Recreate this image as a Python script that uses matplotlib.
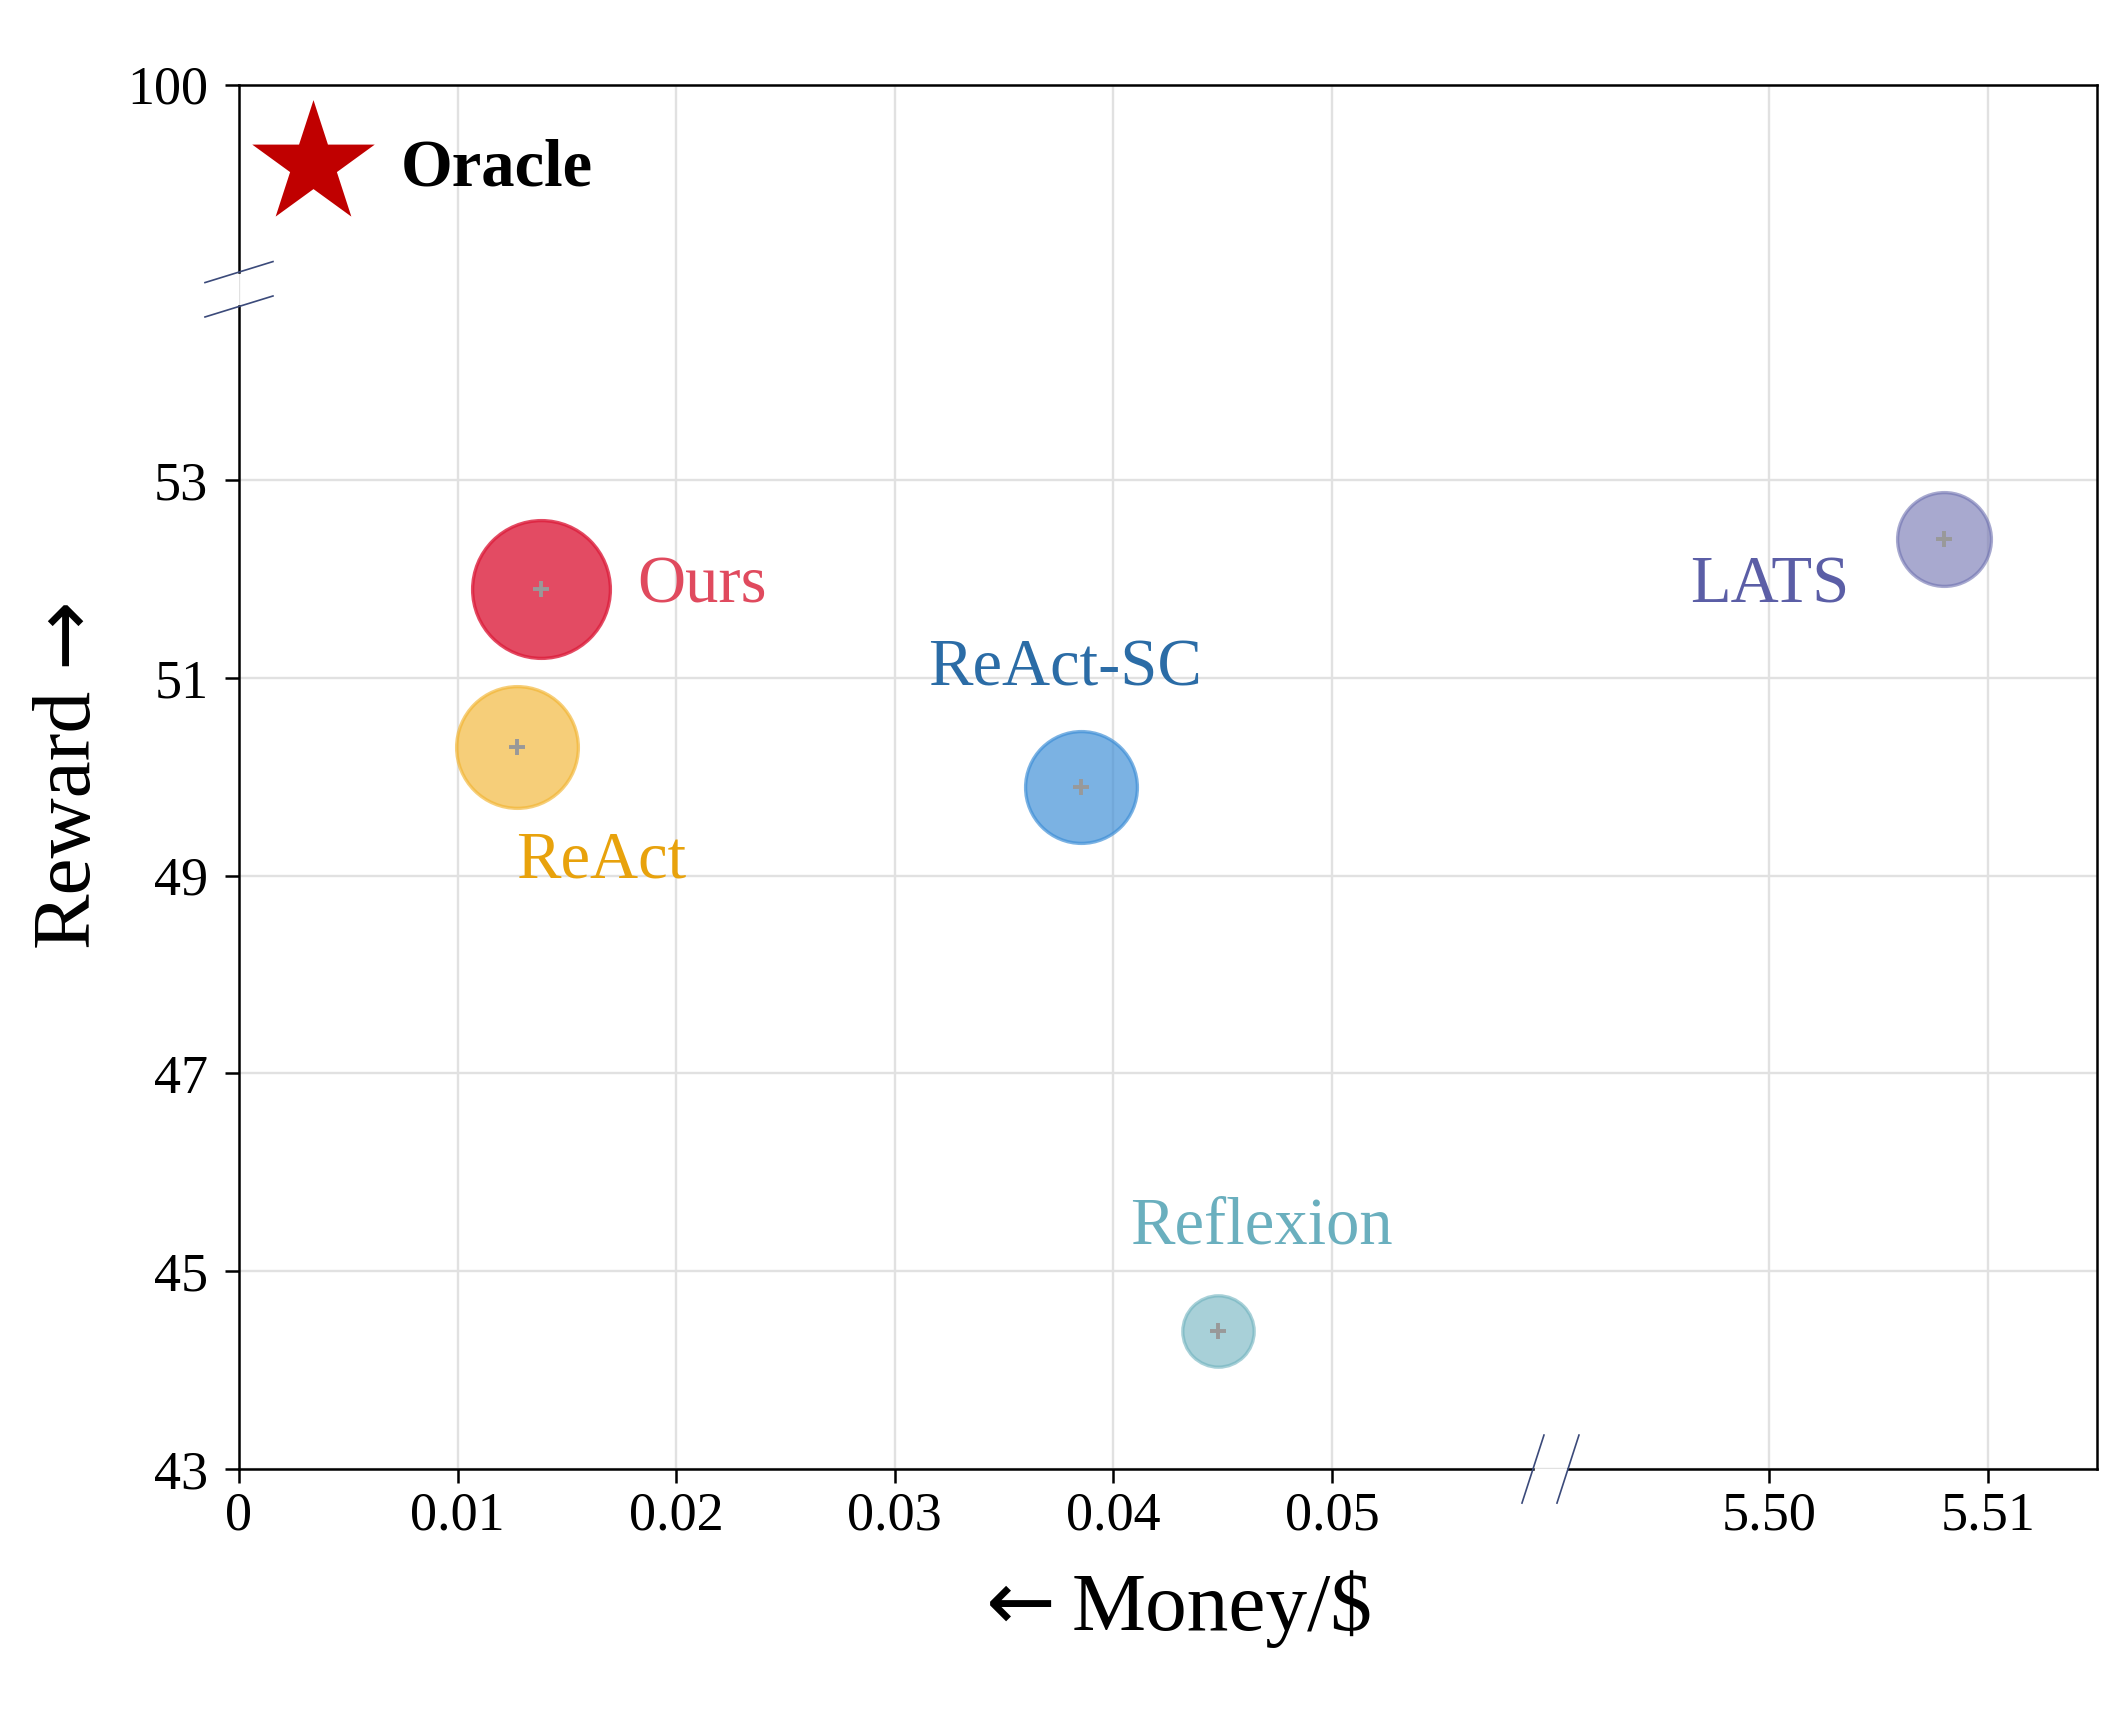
import matplotlib
matplotlib.use('Agg')
import matplotlib.pyplot as plt
import numpy as np

plt.rcParams['font.family'] = ['Liberation Serif', 'DejaVu Serif']

# data (money in $, reward)
methods = ['Ours', 'ReAct', 'ReAct-SC', 'Reflexion', 'LATS']
money = [0.0138, 0.0127, 0.0385, 0.0448, 5.508]
reward = [51.9, 50.3, 49.9, 44.4, 52.4]
bubble_size = [2460, 1920, 1620, 660, 1140]

oracle_money = 0.0034
oracle_reward = 99.2

x_ticks = [0, 0.01, 0.02, 0.03, 0.04, 0.05, 5.50, 5.51]
x_ticklabels = ['0', '0.01', '0.02', '0.03', '0.04', '0.05', '5.50', '5.51']
y_ticks = [43, 45, 47, 49, 51, 53, 100]
y_ticklabels = ['43', '45', '47', '49', '51', '53', '100']

# styles
fill_colors = ['#DC1E3C', '#F2B431', '#3D8ED6', '#6FB2BE', '#6E71B0']
fill_alpha = [0.8, 0.65, 0.68, 0.6, 0.6]
text_colors = ['#E04A5E', '#E8A20C', '#2B6CA6', '#6AAFBE', '#5B5EA6']
# label anchor (left, baseline) in broken-axis coordinates
label_pos = [(0.0182, 51.76), (0.01267, 48.98), (0.03153, 50.92),
             (0.04075, 45.28), (0.06637, 51.76)]

X_BREAK = 0.06
Y_BREAK = 55


def to_x(m):
    # collapse the gap 0.06 .. 5.49
    m = np.asarray(m, dtype=float)
    return np.where(m < X_BREAK, m, m - 5.43)


def to_y(r):
    r = np.asarray(r, dtype=float)
    return np.where(r < Y_BREAK, r, r - 43)


fig = plt.figure(figsize=(10.64, 8.56), dpi=200)
ax_l, ax_b, ax_w, ax_h = 0.1123, 0.1419, 0.8731, 0.8087
ax = fig.add_axes([ax_l, ax_b, ax_w, ax_h])

ax.set_xlim(0, 0.085)
ax.set_ylim(43, 57)
ax.set_xticks(to_x(x_ticks))
ax.set_xticklabels(x_ticklabels)
ax.set_yticks(to_y(y_ticks))
ax.set_yticklabels(y_ticklabels)
ax.tick_params(axis='both', labelsize=19.5, length=5, width=0.9, direction='out')
ax.tick_params(axis='x', pad=3)
ax.tick_params(axis='y', pad=6)
ax.grid(True, color='#e1e1e1', linewidth=0.85, zorder=0)
ax.set_axisbelow(True)

# bubbles
xs = to_x(money)
ys = to_y(reward)
for i in range(len(methods)):
    ax.scatter(xs[i], ys[i], s=bubble_size[i], color=fill_colors[i],
               alpha=fill_alpha[i], edgecolors=fill_colors[i], linewidths=1.2, zorder=3)
    ax.plot(xs[i], ys[i], marker='+', color='#999999', markersize=6, mew=1.4, zorder=4)
    ax.text(label_pos[i][0], label_pos[i][1], methods[i], color=text_colors[i],
            fontsize=24, ha='left', va='baseline', zorder=5)

# oracle
ax.scatter(to_x(oracle_money), to_y(oracle_reward), marker='*', s=2150,
           color='#C00000', linewidths=0, zorder=4)
ax.text(0.0074, 55.98, 'Oracle', fontsize=24, fontweight='bold',
        ha='left', va='baseline', zorder=5)

# spines with gaps + break marks
for side in ['left', 'bottom']:
    ax.spines[side].set_visible(False)
for side in ['top', 'right']:
    ax.spines[side].set_linewidth(0.9)

fig_w_px = fig.get_figwidth() * fig.dpi
fig_h_px = fig.get_figheight() * fig.dpi
aw = ax_w * fig_w_px
ah = ax_h * fig_h_px

yb = (54.93 - 43) / 14.0
xb = X_BREAK / 0.085
gy = 17.2 / ah
gx = 17.5 / aw
kw = dict(transform=ax.transAxes, color='black', linewidth=0.9, clip_on=False,
          solid_capstyle='projecting', zorder=6)
ax.plot([0, 0], [0, yb - gy], **kw)
ax.plot([0, 0], [yb + gy, 1], **kw)
ax.plot([0, xb - gx], [0, 0], **kw)
ax.plot([xb + gx, 1], [0, 0], **kw)

mk = dict(transform=ax.transAxes, color='#3B4A7A', linewidth=0.6, clip_on=False, zorder=7)
dxp, dyp = 34 / aw, 10.5 / ah
for c in [yb - gy, yb + gy]:
    ax.plot([-dxp, dxp], [c - dyp, c + dyp], **mk)
dxp, dyp = 11 / aw, 34 / ah
for c in [xb - gx, xb + gx]:
    ax.plot([c - dxp, c + dxp], [-dyp, dyp], **mk)

# axis labels, arrows drawn in DejaVu Sans (bigger glyph)
fig.text(0.5038, 0.0479, 'Money/$', fontsize=30, ha='left', va='baseline')
fig.text(0.4635, 0.0479, '←', fontsize=30, ha='left', va='baseline',
         family='DejaVu Sans')
fig.text(0.04135, 0.4468, 'Reward', fontsize=30, rotation=90,
         rotation_mode='anchor', ha='left', va='baseline')
fig.text(0.04135, 0.6110, '→', fontsize=30, rotation=90,
         rotation_mode='anchor', ha='left', va='baseline', family='DejaVu Sans')

fig.savefig('out.png', dpi=200)
